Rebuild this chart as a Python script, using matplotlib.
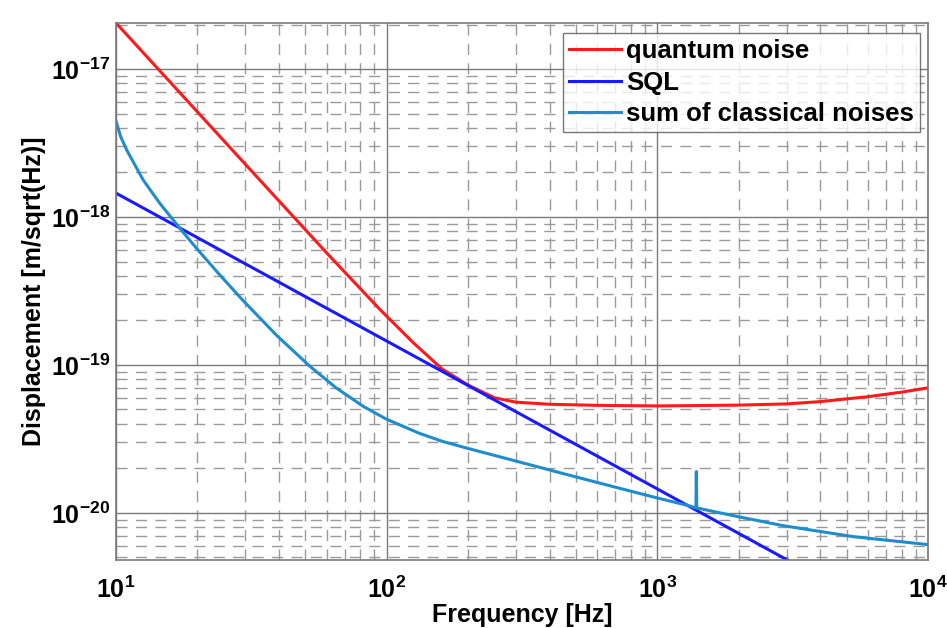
import math
import matplotlib
matplotlib.use("Agg")
import matplotlib.pyplot as plt
from matplotlib.ticker import LogLocator, FuncFormatter, NullFormatter

plt.rcParams['font.family'] = ['Liberation Sans', 'DejaVu Sans']
plt.rcParams['font.weight'] = 'bold'
plt.rcParams['mathtext.fontset'] = 'custom'
plt.rcParams['mathtext.rm'] = 'Liberation Sans:bold'
plt.rcParams['mathtext.bf'] = 'Liberation Sans:bold'

# values
f_quantum = [10, 30, 60, 94, 125, 160, 200, 250, 300, 400, 600, 1000,
             2000, 3000, 4000, 6000, 8000, 10000]
quantum = [2.05e-17, 2.28e-18, 5.72e-19, 2.39e-19, 1.42e-19, 9.4e-20, 7.3e-20,
           6.0e-20, 5.6e-20, 5.42e-20, 5.33e-20, 5.28e-20,
           5.35e-20, 5.45e-20, 5.65e-20, 6.1e-20, 6.55e-20, 7.0e-20]

f_sql = [10, 10000]
sql = [1.45e-18, 1.45e-21]

f_classical = [10, 10.4, 10.95, 12.6, 14.5, 17.2, 19.9, 24.2, 29.5, 39.2, 52,
               65, 82, 100, 132, 160, 196, 300, 450, 700, 1000, 1300, 1388,
               1393, 1398, 1500, 2000, 2900, 5300, 10000]
classical = [4.45e-18, 3.5e-18, 2.84e-18, 1.78e-18, 1.24e-18, 8.4e-19, 6.1e-19,
             4.05e-19, 2.72e-19, 1.585e-19, 9.8e-20, 7.0e-20, 5.24e-20, 4.29e-20,
             3.45e-20, 3.05e-20, 2.75e-20, 2.24e-20, 1.84e-20, 1.49e-20, 1.26e-20,
             1.12e-20, 1.08e-20, 1.9e-20, 1.08e-20, 1.05e-20, 9.4e-21, 8.2e-21,
             6.9e-21, 6.1e-21]

labels = ['quantum noise', 'SQL', 'sum of classical noises']
colors = ['#ff1a1a', '#1a1aff', '#1f8ccc']
x_ticks = [1e1, 1e2, 1e3, 1e4]
y_ticks = [1e-20, 1e-19, 1e-18, 1e-17]

fig = plt.figure(figsize=(9.47, 6.28), dpi=100)
ax = fig.add_axes([0.1225, 0.1083, 0.8575, 0.8551])

ax.loglog(f_quantum, quantum, color=colors[0], lw=2.2, label=labels[0])
ax.loglog(f_sql, sql, color=colors[1], lw=2.2, label=labels[1])
ax.loglog(f_classical, classical, color=colors[2], lw=2.2, label=labels[2])

ax.set_xlim(10, 1e4)
ax.set_ylim(4.8e-21, 2.05e-17)

ax.set_xticks(x_ticks)
ax.set_yticks(y_ticks)
ax.xaxis.set_minor_locator(LogLocator(base=10, subs=range(2, 10), numticks=20))
ax.yaxis.set_minor_locator(LogLocator(base=10, subs=range(2, 10), numticks=20))
fmt = FuncFormatter(lambda v, p: r'$\mathbf{10^{%d}}$' % round(math.log10(v)))
ax.xaxis.set_major_formatter(fmt)
ax.yaxis.set_major_formatter(fmt)
ax.xaxis.set_minor_formatter(NullFormatter())
ax.yaxis.set_minor_formatter(NullFormatter())

ax.grid(True, which='major', color='#7a7a7a', ls='-', lw=1.0)
ax.grid(True, which='minor', color='#9a9a9a', ls=(0, (8, 6)), lw=1.0)
ax.tick_params(which='both', direction='in', length=0, labelsize=18)
ax.tick_params(axis='x', pad=12)
ax.tick_params(axis='y', pad=4)
for s in ax.spines.values():
    s.set_color('#7a7a7a')
    s.set_linewidth(1.2)

ax.set_xlabel('Frequency [Hz]', fontsize=18, fontweight='bold', labelpad=0)
ax.set_ylabel('Displacement [m/sqrt(Hz)]', fontsize=18, fontweight='bold', labelpad=4)

leg = ax.legend(loc='upper right', bbox_to_anchor=(0.9715, 0.9475),
                bbox_transform=fig.transFigure, borderaxespad=0,
                fontsize=18.5, frameon=True, fancybox=False,
                borderpad=0.25, labelspacing=0.28, handlelength=2.0,
                handletextpad=0.2)
leg.get_frame().set_edgecolor('#555555')
leg.get_frame().set_linewidth(1.0)
for t in leg.get_texts():
    t.set_fontweight('bold')

fig.savefig('out.png', dpi=100, facecolor='white')
